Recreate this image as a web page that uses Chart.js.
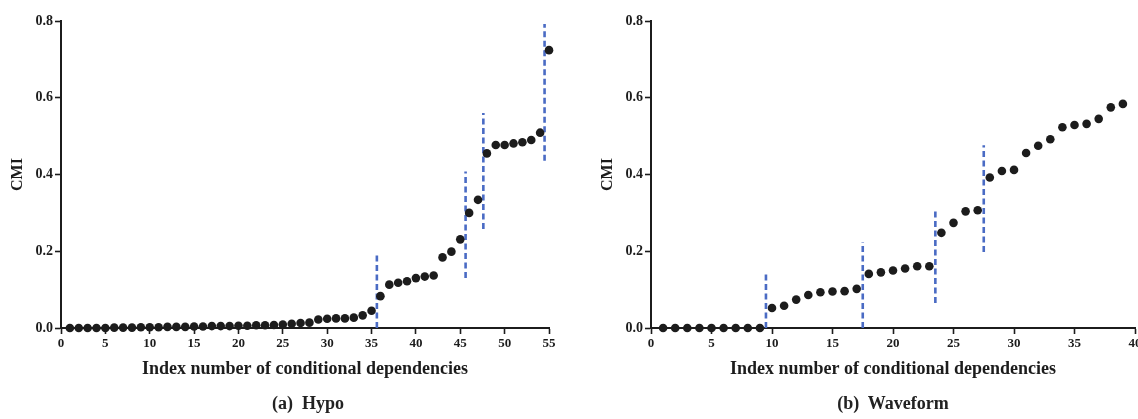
<!DOCTYPE html>
<html>
<head>
<meta charset="utf-8">
<script src="https://cdn.jsdelivr.net/npm/chart.js@4.4.1/dist/chart.umd.min.js"></script>
<style>
  html, body { margin: 0; padding: 0; background: #fff; width: 1138px; height: 419px; overflow: hidden; position: relative; }
  .wrap { position: absolute; top: 0; height: 400px; }
  .cap { position: absolute; top: 393px; font: bold 18px "Liberation Serif", "Times New Roman", serif; color: #222; white-space: pre; transform: translateX(-50%); }
</style>
</head>
<body>
<div class="wrap" id="wa" style="left:0px; width:580px;"><canvas id="ca"></canvas></div>
<div class="wrap" id="wb" style="left:590px; width:560px;"><canvas id="cb"></canvas></div>
<div class="cap" style="left:308px;">(a)  Hypo</div>
<div class="cap" style="left:893px;">(b)  Waveform</div>
<script>
// ---- data ----
const hypoIndex = [1,2,3,4,5,6,7,8,9,10,11,12,13,14,15,16,17,18,19,20,21,22,23,24,25,26,27,28,29,30,31,32,33,34,35,36,37,38,39,40,41,42,43,44,45,46,47,48,49,50,51,52,53,54,55];
const hypoCMI = [0.000,0.000,0.000,0.000,0.000,0.001,0.001,0.001,0.002,0.002,
                 0.002,0.003,0.003,0.003,0.004,0.004,0.005,0.005,0.005,0.006,
                 0.006,0.007,0.007,0.008,0.009,0.011,0.013,0.014,0.022,0.024,
                 0.025,0.025,0.027,0.033,0.045,0.083,0.113,0.118,0.122,0.130,
                 0.134,0.137,0.184,0.199,0.231,0.300,0.334,0.455,0.477,0.477,
                 0.481,0.484,0.490,0.509,0.724];
const hypoCutX = [35.6, 45.6, 47.6, 54.5];
const hypoCutLow = [0.0, 0.13, 0.258, 0.436];
const hypoCutHigh = [0.195, 0.408, 0.56, 0.792];

const waveIndex = [1,2,3,4,5,6,7,8,9,10,11,12,13,14,15,16,17,18,19,20,21,22,23,24,25,26,27,28,29,30,31,32,33,34,35,36,37,38,39];
const waveCMI = [0,0,0,0,0,0,0,0,0,0.052,
                 0.058,0.074,0.086,0.093,0.095,0.096,0.102,0.141,0.145,0.150,
                 0.155,0.161,0.161,0.248,0.274,0.304,0.307,0.392,0.409,0.412,
                 0.456,0.475,0.492,0.523,0.529,0.532,0.545,0.575,0.584];
const waveCutX = [9.5, 17.5, 23.5, 27.5];
const waveCutLow = [0.0, 0.0, 0.065, 0.198];
const waveCutHigh = [0.147, 0.224, 0.311, 0.476];

const yTicks = [0, 0.2, 0.4, 0.6, 0.8];
const xTitle = 'Index number of conditional dependencies';
const yTitle = 'CMI';

// ---- styling ----
const FONT = '"Liberation Serif", "Times New Roman", serif';
const INK = '#1c1c1c';
const DASH = '#4a6bc4';

function buildChart(canvasId, idx, vals, cutX, cutLow, cutHigh, xMax, padRight) {
  const datasets = [];
  cutX.forEach((x, i) => {
    datasets.push({
      type: 'line',
      data: [{x: x, y: cutLow[i]}, {x: x, y: cutHigh[i]}],
      borderColor: DASH, borderWidth: 2.6, borderDash: [6, 3.5],
      pointRadius: 0, fill: false, clip: false, order: 2
    });
  });
  datasets.push({
    type: 'scatter',
    data: idx.map((x, i) => ({x: x, y: vals[i]})),
    backgroundColor: INK, borderColor: INK, pointRadius: 4.3, pointBorderWidth: 0,
    clip: false, order: 1
  });
  const xTickVals = [];
  for (let v = 0; v <= xMax; v += 5) xTickVals.push(v);
  return new Chart(document.getElementById(canvasId), {
    data: { datasets },
    options: {
      responsive: true, maintainAspectRatio: false, animation: false,
      layout: { padding: { top: 21, right: padRight, bottom: 0, left: 0 } },
      plugins: { legend: { display: false }, tooltip: { enabled: false } },
      scales: {
        x: {
          type: 'linear', min: 0, max: xMax,
          afterBuildTicks: s => { s.ticks = xTickVals.map(v => ({value: v})); },
          ticks: { color: INK, font: { family: FONT, size: 13, weight: 'bold' }, padding: 2, maxRotation: 0 },
          grid: { display: true, drawOnChartArea: false, drawTicks: true, tickLength: 6, tickColor: INK, tickWidth: 1.6 },
          border: { display: true, color: INK, width: 2 },
          title: { display: true, text: xTitle, color: INK, font: { family: FONT, size: 18, weight: 'bold' }, padding: { top: 0, bottom: 20 } },
          afterFit: s => { s.height = 72; }
        },
        y: {
          type: 'linear', min: 0, max: 0.8,
          afterBuildTicks: s => { s.ticks = yTicks.map(v => ({value: v})); },
          ticks: { color: INK, font: { family: FONT, size: 14, weight: 'bold' }, padding: 2, callback: v => Number(v).toFixed(1) },
          grid: { display: true, drawOnChartArea: false, drawTicks: true, tickLength: 6, tickColor: INK, tickWidth: 1.6 },
          border: { display: true, color: INK, width: 2 },
          title: { display: true, text: yTitle, color: INK, font: { family: FONT, size: 16, weight: 'bold' }, padding: { top: 8, bottom: 0 } },
          afterFit: s => { s.width = 61; }
        }
      }
    }
  });
}

buildChart('ca', hypoIndex, hypoCMI, hypoCutX, hypoCutLow, hypoCutHigh, 55, 31);
buildChart('cb', waveIndex, waveCMI, waveCutX, waveCutLow, waveCutHigh, 40, 15);
</script>
</body>
</html>
